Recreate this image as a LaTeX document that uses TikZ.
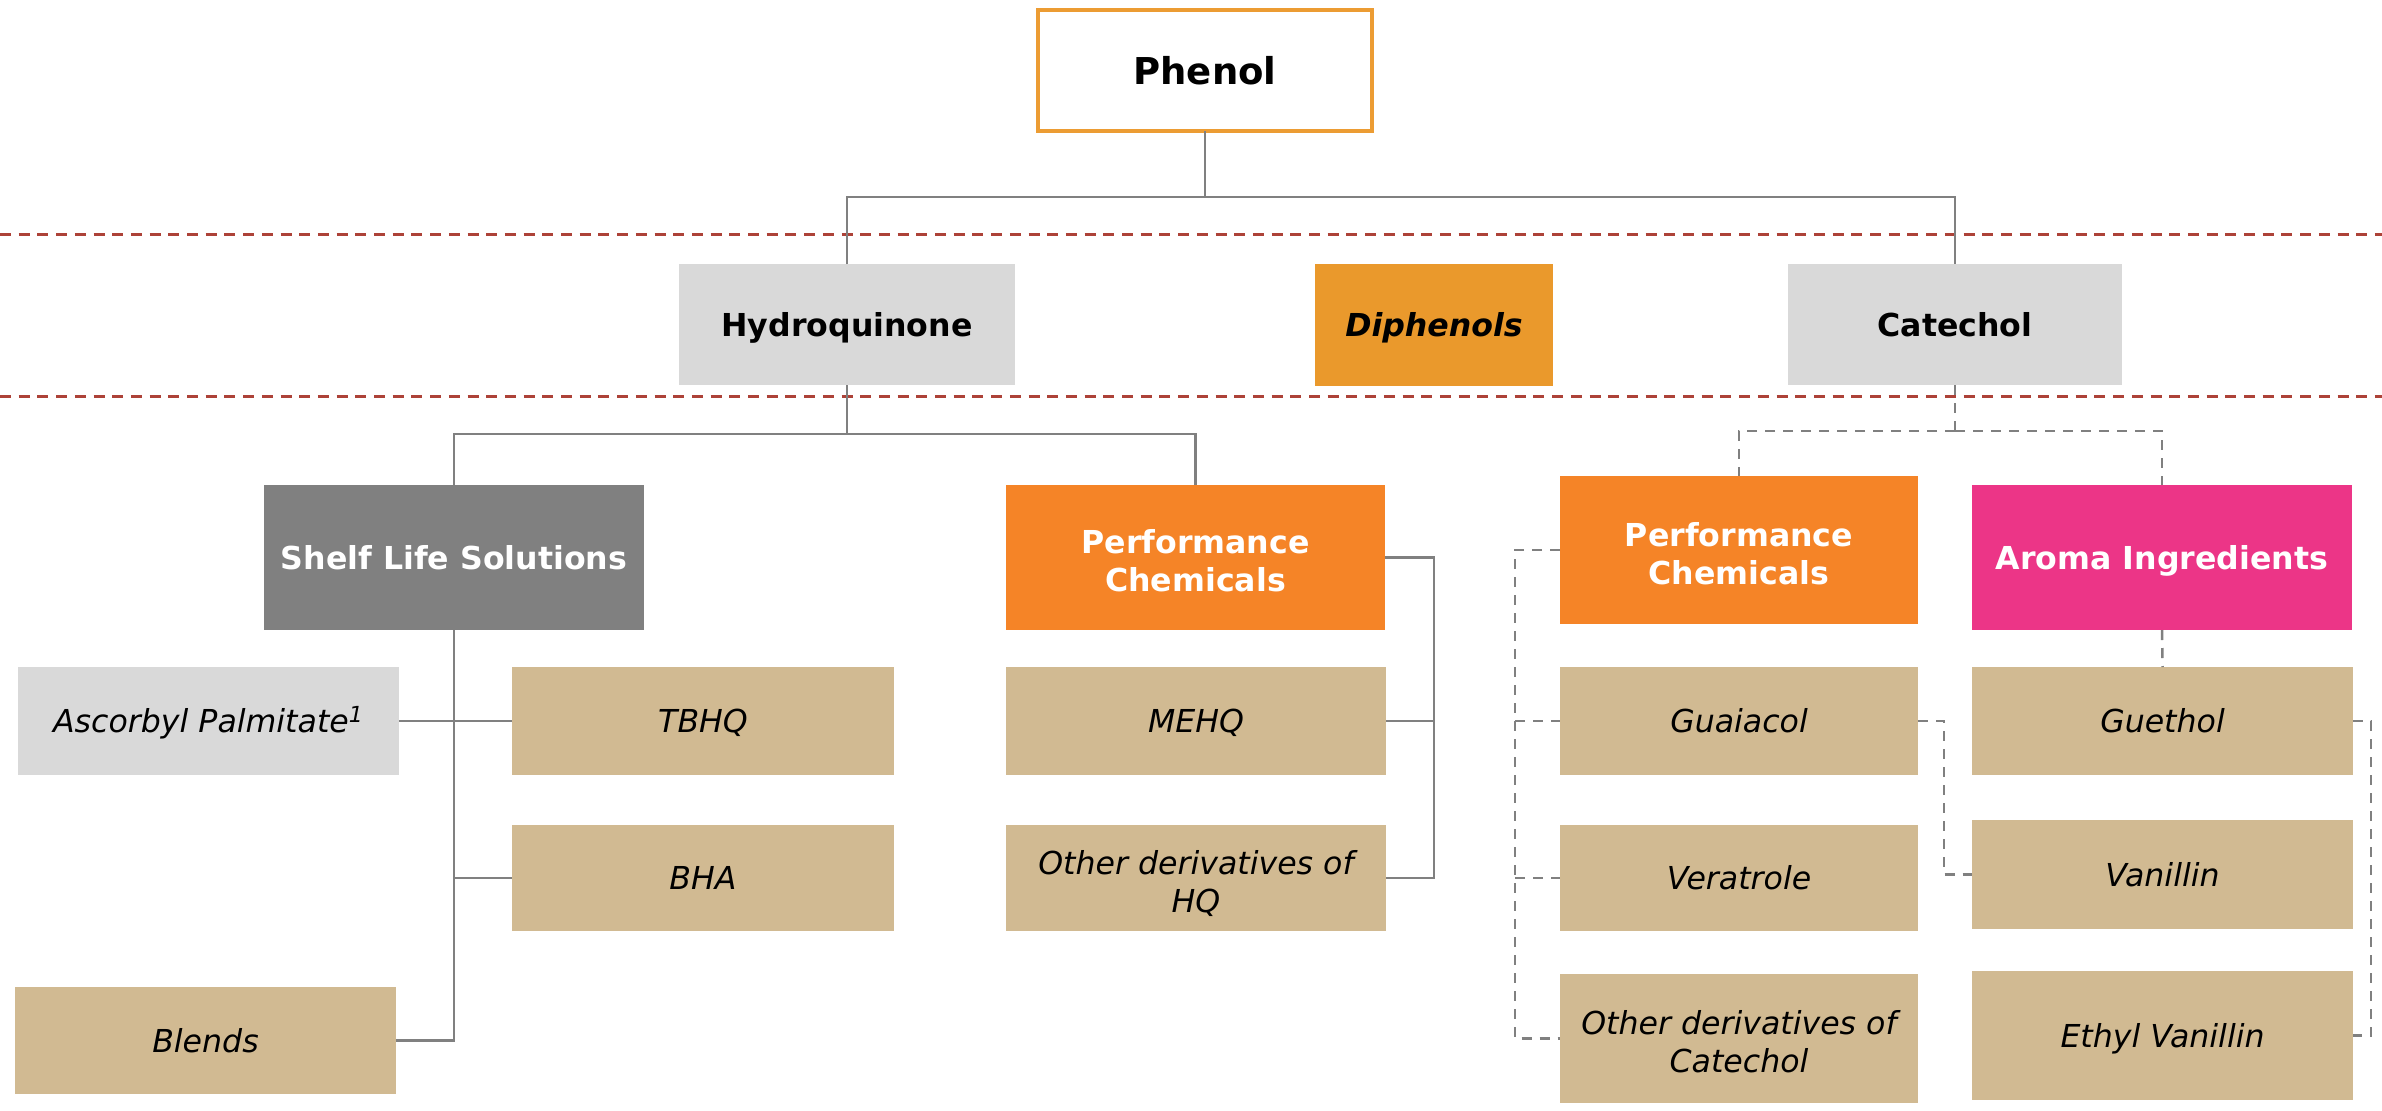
\documentclass[tikz,border=0pt]{standalone}
\usepackage{fontspec}
\setmainfont{DejaVu Sans}
\definecolor{cTan}{HTML}{D1BA92}
\definecolor{cLight}{HTML}{D9D9D9}
\definecolor{cDark}{HTML}{808080}
\definecolor{cOrange}{HTML}{F58427}
\definecolor{cPink}{HTML}{EC3587}
\definecolor{cDiph}{HTML}{EA992C}
\definecolor{cPhen}{HTML}{EC9C33}
\definecolor{cRed}{HTML}{AD4238}
\definecolor{cLine}{HTML}{808080}
\newcommand\bx[7]{\node[box,#6,minimum width={(#4-#2)*0.5pt},minimum height={(#5-#3)*0.5pt}] (#1) at ({(#2+#4)/2},{(#3+#5)/2}) {#7};}
\begin{document}
\begin{tikzpicture}[x=0.5pt,y=-0.5pt,
  box/.style={rectangle, inner sep=0pt, outer sep=0pt, align=center, font=\fontsize{15.8}{19}\selectfont},
  one/.style={text height=11.5pt, text depth=0pt},
  two/.style={text height=34pt, text depth=0pt},
  head/.style={fill=cLight, font=\fontsize{15.8}{19}\selectfont\bfseries},
  cat/.style={text=white, font=\fontsize{15.8}{19}\selectfont\bfseries},
  leaf/.style={fill=cTan, font=\fontsize{15.8}{19}\selectfont\itshape},
  sep/.style={draw=cRed, line width=1.5pt, dash pattern=on 5.5pt off 3.85pt},
  conn/.style={draw=cLine, line width=1.25pt},
  dconn/.style={draw=cLine, line width=1.25pt, dash pattern=on 5pt off 4pt}]
\useasboundingbox (0,0) rectangle (2382,1110);
\fill[white] (0,0) rectangle (2382,1110);
% separators
\coordinate (s1l) at (0,234);
\coordinate (s1r) at (2382,234);
\coordinate (s2l) at (0,396);
\coordinate (s2r) at (2382,396);
\draw[sep] (s1l) -- (s1r);
\draw[sep] (s2l) -- (s2r);
% nodes
\bx{phenol}{1038}{10}{1372}{131}{one,draw=cPhen,line width=2pt,fill=white,font=\fontsize{18.5}{22}\selectfont\bfseries,text height=13.5pt}{Phenol}
\bx{hq}{679}{264}{1015}{385}{one,head}{Hydroquinone}
\bx{diph}{1315}{264}{1553}{386}{one,fill=cDiph,font=\fontsize{15.8}{19}\selectfont\bfseries\itshape}{Diphenols}
\bx{cat}{1788}{264}{2122}{385}{one,head}{Catechol}
\bx{shelf}{264}{485}{644}{630}{one,cat,fill=cDark}{Shelf Life Solutions}
\bx{pcone}{1006}{485}{1385}{630}{two,cat,fill=cOrange}{Performance\\Chemicals}
\bx{pctwo}{1560}{476}{1918}{624}{two,cat,fill=cOrange}{Performance\\Chemicals}
\bx{aroma}{1972}{485}{2352}{630}{one,cat,fill=cPink}{Aroma Ingredients}
\bx{asc}{18}{667}{399}{775}{one,fill=cLight,font=\fontsize{15.8}{19}\selectfont\itshape}{Ascorbyl Palmitate\textsuperscript{1}}
\bx{tbhq}{512}{667}{894}{775}{one,leaf}{TBHQ}
\bx{bha}{512}{825}{894}{931}{one,leaf}{BHA}
\bx{blends}{15}{987}{396}{1094}{one,leaf}{Blends}
\bx{mehq}{1006}{667}{1386}{775}{one,leaf}{MEHQ}
\bx{ohq}{1006}{825}{1386}{931}{two,leaf}{Other derivatives of\\HQ}
\bx{guaia}{1560}{667}{1918}{775}{one,leaf}{Guaiacol}
\bx{vera}{1560}{825}{1918}{931}{one,leaf}{Veratrole}
\bx{ocat}{1560}{974}{1918}{1103}{two,leaf}{Other derivatives of\\Catechol}
\bx{gueth}{1972}{667}{2353}{775}{one,leaf}{Guethol}
\bx{vanil}{1972}{820}{2353}{929}{one,leaf}{Vanillin}
\bx{ethyl}{1972}{971}{2353}{1100}{one,leaf}{Ethyl Vanillin}
% solid connectors
\coordinate (j1) at (1205,197);
\draw[conn] (phenol.south) -- (j1);
\draw[conn] (hq.north) |- (j1) -| (cat.north);
\coordinate (j2) at (847,434);
\draw[conn] (hq.south) -- (j2);
\draw[conn] (shelf.north) |- (j2) -| (pcone.north);
\draw[conn] (shelf.south) -- (shelf.south |- blends.east) -- (blends.east);
\draw[conn] (asc.east) -- (tbhq.west);
\draw[conn] (shelf.south |- bha.west) -- (bha.west);
\coordinate (b1) at (1434,557.5);
\draw[conn] (pcone.east) -- (b1) |- (ohq.east);
\draw[conn] (mehq.east) -- (b1 |- mehq.east);
% dashed connectors
\coordinate (j3) at (1955,431);
\draw[dconn] (cat.south) -- (j3);
\draw[dconn] (j3) -| (pctwo.north);
\draw[dconn] (j3) -| (aroma.north);
\draw[dconn] (aroma.south) -- (gueth.north);
\coordinate (b2) at (1515,550);
\draw[dconn] (pctwo.west) -- (b2) |- (ocat.west);
\draw[dconn] (b2 |- guaia.west) -- (guaia.west);
\draw[dconn] (b2 |- vera.west) -- (vera.west);
\coordinate (b3) at (1944,721);
\draw[dconn] (guaia.east) -- (b3) |- (vanil.west);
\coordinate (b4) at (2371,721);
\draw[dconn] (gueth.east) -- (b4) |- (ethyl.east);
\end{tikzpicture}
\end{document}
